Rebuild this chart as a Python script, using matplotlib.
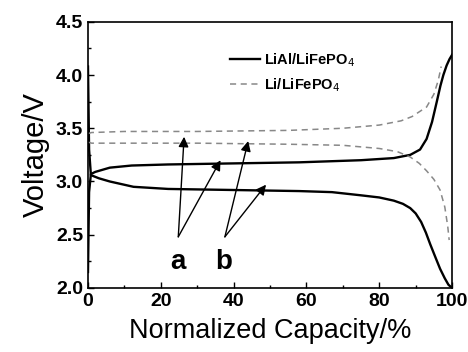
import matplotlib.pyplot as plt
from matplotlib.ticker import MultipleLocator, FormatStrFormatter

plt.rcParams['font.family'] = ['Liberation Sans', 'DejaVu Sans']

# LiAl/LiFePO4 charge (solid)
lial_chg_x = [0, 0.3, 0.8, 2, 6, 12, 22, 40, 58, 75, 84, 88.5, 91.2, 93, 94.5, 95.8, 96.8, 97.6, 98.5, 99.3, 100]
lial_chg_v = [2.15, 2.9, 3.07, 3.09, 3.13, 3.15, 3.16, 3.17, 3.18, 3.20, 3.22, 3.25, 3.30, 3.40, 3.56, 3.75, 3.90, 4.00, 4.09, 4.15, 4.19]
# LiAl/LiFePO4 discharge (solid)
lial_dis_x = [0, 0.3, 0.8, 3, 6, 12.5, 22, 40, 58, 67, 75, 80, 84, 86.5, 88.5, 90, 91.5, 92.8, 94, 95.4, 96.7, 98, 99, 100]
lial_dis_v = [4.08, 3.3, 3.06, 3.03, 3.0, 2.95, 2.93, 2.92, 2.91, 2.90, 2.87, 2.85, 2.82, 2.79, 2.75, 2.70, 2.62, 2.52, 2.41, 2.29, 2.18, 2.09, 2.03, 2.0]
# Li/LiFePO4 charge (dashed)
li_chg_x = [0, 1, 10, 30, 55, 70, 80, 86, 89, 93, 95, 96.2, 97]
li_chg_v = [3.45, 3.46, 3.47, 3.47, 3.48, 3.50, 3.53, 3.57, 3.61, 3.70, 3.82, 3.95, 4.08]
# Li/LiFePO4 discharge (dashed)
li_dis_x = [0, 1, 10, 30, 55, 70, 80, 85, 88.5, 91, 93, 95, 96.7, 98, 98.8, 99.2]
li_dis_v = [3.37, 3.36, 3.36, 3.36, 3.35, 3.34, 3.31, 3.28, 3.23, 3.17, 3.10, 3.02, 2.92, 2.76, 2.58, 2.45]

# arrows: label -> (origin, targets)
arrow_labels = ['a', 'b']
arrow_origins = [(24.8, 2.48), (37.6, 2.48)]
arrow_targets = [[(26.4, 3.42), (36.4, 3.20)], [(44.0, 3.38), (48.9, 2.97)]]
label_pos = [(24.7, 2.24), (37.2, 2.24)]

fig = plt.figure(figsize=(4.68, 3.52), dpi=100)
ax = fig.add_axes([0.188, 0.182, 0.778, 0.756])

ax.plot(lial_chg_x, lial_chg_v, color='black', lw=1.7, label='LiAl/LiFePO$_4$')
ax.plot(lial_dis_x, lial_dis_v, color='black', lw=1.7)
ax.plot(li_chg_x, li_chg_v, color='#888888', lw=1.1, ls=(0, (4, 3)), label='Li/LiFePO$_4$')
ax.plot(li_dis_x, li_dis_v, color='#888888', lw=1.1, ls=(0, (4, 3)))

for lab, org, tgts, lp in zip(arrow_labels, arrow_origins, arrow_targets, label_pos):
    for t in tgts:
        ax.annotate('', xy=t, xytext=org,
                    arrowprops=dict(arrowstyle='-|>', color='black', lw=1.0,
                                    mutation_scale=15, shrinkA=0, shrinkB=0))
    ax.text(lp[0], lp[1], lab, fontsize=20, fontweight='bold', ha='center', va='center')

ax.set_xlim(0, 100)
ax.set_ylim(2.0, 4.5)
ax.xaxis.set_major_locator(MultipleLocator(20))
ax.xaxis.set_minor_locator(MultipleLocator(10))
ax.yaxis.set_major_locator(MultipleLocator(0.5))
ax.yaxis.set_minor_locator(MultipleLocator(0.25))
ax.yaxis.set_major_formatter(FormatStrFormatter('%.1f'))
ax.tick_params(which='both', direction='in', labelsize=14, width=1)
ax.tick_params(which='major', length=4)
ax.tick_params(which='minor', length=2)
for lbl in ax.get_xticklabels() + ax.get_yticklabels():
    lbl.set_fontweight('bold')
for s in ax.spines.values():
    s.set_linewidth(1.2)

ax.set_xlabel('Normalized Capacity/%', fontsize=19.5, labelpad=6)
ax.set_ylabel('Voltage/V', fontsize=21, labelpad=4)

leg = ax.legend(loc='center left', bbox_to_anchor=(0.355, 0.81), frameon=False,
                fontsize=10.5, handlelength=2.0, handletextpad=0.3, labelspacing=0.5)
for t in leg.get_texts():
    t.set_fontweight('bold')

fig.savefig('out.png', dpi=100)
